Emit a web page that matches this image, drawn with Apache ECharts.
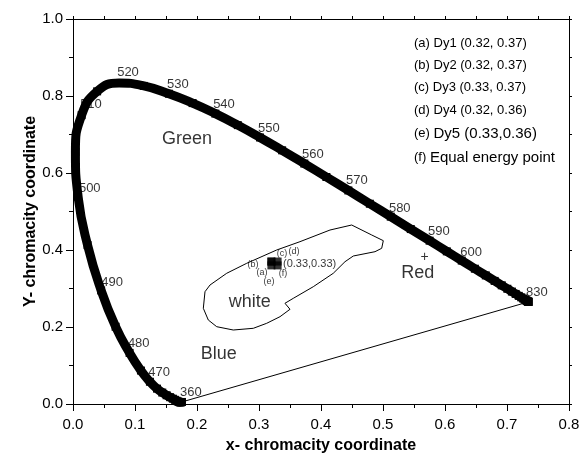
<!DOCTYPE html>
<html>
<head>
<meta charset="utf-8">
<script src="https://cdn.jsdelivr.net/npm/echarts@6/dist/echarts.min.js"></script>
<style>html,body{margin:0;padding:0;background:#fff}#c{width:580px;height:454px}</style>
</head>
<body>
<div id="c"></div>
<script>
// Spectral locus (x, y) read for 360..830 nm
const locusX = [0.1756,0.1752,0.1749,0.1745,0.1741,0.1740,0.1738,0.1736,0.1733,0.1730,0.1726,0.1721,0.1714,0.1703,0.1689,0.1669,0.1644,0.1611,0.1566,0.1510,0.1440,0.1355,0.1241,0.1096,0.0913,0.0687,0.0454,0.0235,0.0082,0.0039,0.0139,0.0389,0.0743,0.1142,0.1547,0.1929,0.2296,0.2658,0.3016,0.3373,0.3731,0.4087,0.4441,0.4788,0.5125,0.5448,0.5752,0.6029,0.6270,0.6482,0.6658,0.6801,0.6915,0.7006,0.7079,0.7140,0.7190,0.7230,0.7260,0.7283,0.7300,0.7311,0.7320,0.7327,0.7334,0.7340,0.7344,0.7346,0.7347,0.7347];
const locusY = [0.0053,0.0052,0.0052,0.0050,0.0050,0.0050,0.0049,0.0049,0.0048,0.0048,0.0048,0.0048,0.0051,0.0058,0.0069,0.0086,0.0109,0.0138,0.0177,0.0227,0.0297,0.0399,0.0578,0.0868,0.1327,0.2007,0.2950,0.4127,0.5384,0.6548,0.7502,0.8120,0.8338,0.8262,0.8059,0.7816,0.7543,0.7243,0.6923,0.6589,0.6245,0.5896,0.5547,0.5202,0.4866,0.4544,0.4242,0.3965,0.3725,0.3514,0.3340,0.3197,0.3083,0.2993,0.2920,0.2859,0.2809,0.2770,0.2740,0.2717,0.2700,0.2689,0.2680,0.2673,0.2666,0.2660,0.2656,0.2654,0.2653,0.2653];
// purple line 360 -> 830
const purpleX = [0.1756, 0.7347];
const purpleY = [0.0053, 0.2653];
// wavelength labels
const wlText = ['360','470','480','490','500','510','520','530','540','550','560','570','580','590','600','830'];
const wlX = [0.190,0.139,0.106,0.063,0.027,0.029,0.0887,0.169,0.2435,0.316,0.387,0.458,0.527,0.590,0.642,0.748];
const wlY = [0.031,0.083,0.158,0.317,0.561,0.777,0.860,0.831,0.779,0.717,0.647,0.582,0.509,0.447,0.395,0.291];
// region labels
const regionText = ['Green','Blue','white','Red','+'];
const regionX = [0.184,0.235,0.285,0.556,0.567];
const regionY = [0.688,0.130,0.265,0.340,0.382];
const regionSize = [18,18,18,18,14];
// white region outline
const whiteX = [0.4495,0.4818,0.5005,0.4979,0.4871,0.4521,0.4387,0.4198,0.3876,0.3553,0.3419,0.3500,0.3339,0.3124,0.2908,0.2585,0.2318,0.2182,0.2102,0.2129,0.2210,0.2479,0.2802,0.3285,0.3661,0.4145,0.4495];
const whiteY = [0.4649,0.4390,0.4242,0.4044,0.3956,0.3844,0.3696,0.3395,0.3047,0.2745,0.2616,0.2460,0.2268,0.2096,0.1966,0.1922,0.2008,0.2182,0.2486,0.2917,0.3091,0.3395,0.3655,0.4000,0.4216,0.4519,0.4649];
// Dy samples (a)..(e)
const sampleX = [0.32,0.32,0.33,0.32,0.33];
const sampleY = [0.37,0.37,0.37,0.36,0.36];
// small tags near samples
const tagText = ['(b)','(a)','(e)','(f)','(c)','(d)'];
const tagX = [0.2903,0.3048,0.3161,0.3387,0.3371,0.3565];
const tagY = [0.361,0.3403,0.3169,0.3377,0.3896,0.3948];
const eepText = '(0.33,0.33)';
const eepPos = [0.3387, 0.3636];
// legend lines
const legendLines = [
  ['(a) ', 'Dy1 (0.32, 0.37)'],
  ['(b) ', 'Dy2 (0.32, 0.37)'],
  ['(c) ', 'Dy3 (0.33, 0.37)'],
  ['(d) ', 'Dy4 (0.32, 0.36)'],
  ['(e) ', 'Dy5 (0.33,0.36)'],
  ['(f) ', 'Equal energy point']
];
const xTicks = ['0.0','0.1','0.2','0.3','0.4','0.5','0.6','0.7','0.8'];
const yTicks = ['0.0','0.2','0.4','0.6','0.8','1.0'];

const zip = (a, b) => a.map((v, i) => [v, b[i]]);
const FONT = 'Arial, "Liberation Sans", sans-serif';

const chart = echarts.init(document.getElementById('c'), null, {renderer: 'canvas'});

const legendGraphics = legendLines.map((l, i) => {
  const big = i >= 4;
  return {
    type: 'text', left: 414, top: [43,65,87,110,133,157][i] - (big ? 7 : 6),
    style: {
      text: '{s|' + l[0] + '}{' + (big ? 'b' : 's') + '|' + l[1] + '}',
      rich: {
        s: {fontSize: 13, fontFamily: FONT, fill: '#000'},
        b: {fontSize: 15, fontFamily: FONT, fill: '#000'}
      }
    }
  };
});

chart.setOption({
  animation: false,
  backgroundColor: '#fff',
  grid: {left: 73, right: 11, top: 19, bottom: 50, containLabel: false, outerBoundsMode: 'none'},
  xAxis: [{
    type: 'value', min: 0, max: 0.8, interval: 0.1, position: 'bottom',
    name: 'x- chromacity coordinate', nameLocation: 'middle', nameGap: 34, nameMoveOverlap: false,
    nameTextStyle: {fontSize: 16, fontWeight: 'bold', fontFamily: FONT, color: '#000'},
    axisLine: {show: true, onZero: false, lineStyle: {color: '#000', width: 1}},
    axisTick: {show: true, length: 7, lineStyle: {color: '#000'}},
    minorTick: {show: true, splitNumber: 2, length: 4, lineStyle: {color: '#000'}},
    axisLabel: {margin: 13, fontSize: 15, fontFamily: FONT, color: '#000',
      formatter: v => xTicks[Math.round(v * 10)]},
    splitLine: {show: false}
  }, {
    type: 'value', min: 0, max: 0.8, interval: 0.05, position: 'top',
    axisLine: {show: true, onZero: false, lineStyle: {color: '#000', width: 1}},
    axisTick: {show: true, length: 3, lineStyle: {color: '#000'}},
    axisLabel: {show: false}, splitLine: {show: false}
  }],
  yAxis: [{
    type: 'value', min: 0, max: 1.0, interval: 0.2, position: 'left',
    name: 'Y- chromacity coordinate', nameLocation: 'middle', nameGap: 34, nameMoveOverlap: false,
    nameTextStyle: {fontSize: 16, fontWeight: 'bold', fontFamily: FONT, color: '#000'},
    axisLine: {show: true, onZero: false, lineStyle: {color: '#000', width: 1}},
    axisTick: {show: true, length: 7, lineStyle: {color: '#000'}},
    minorTick: {show: true, splitNumber: 2, length: 4, lineStyle: {color: '#000'}},
    axisLabel: {margin: 10, fontSize: 15, fontFamily: FONT, color: '#000',
      formatter: v => yTicks[Math.round(v * 5)]},
    splitLine: {show: false}
  }, {
    type: 'value', min: 0, max: 1.0, interval: 0.1, position: 'right',
    axisLine: {show: true, onZero: false, lineStyle: {color: '#000', width: 1}},
    axisTick: {show: true, length: 3, lineStyle: {color: '#000'}},
    axisLabel: {show: false}, splitLine: {show: false}
  }],
  graphic: legendGraphics,
  series: [
    {
      type: 'scatter', z: 1, symbolSize: 0, silent: true,
      data: wlText.map((t, i) => ({name: t, value: [wlX[i], wlY[i]]})),
      label: {show: true, position: 'inside', formatter: '{b}', fontSize: 13, fontFamily: FONT, color: '#000'}
    },
    {
      type: 'line', z: 2, showSymbol: false, symbol: 'none', silent: true,
      data: zip(purpleX, purpleY), lineStyle: {color: '#000', width: 1}
    },
    {
      type: 'line', z: 2, showSymbol: false, symbol: 'none', silent: true,
      data: zip(whiteX, whiteY), lineStyle: {color: '#000', width: 1}
    },
    {
      type: 'line', z: 3, symbol: 'rect', symbolSize: 8, showAllSymbol: true, silent: true,
      smooth: 0.5,
      data: zip(locusX, locusY),
      itemStyle: {color: '#000'}, lineStyle: {color: '#000', width: 9}
    },
    {
      type: 'scatter', z: 3, symbol: 'rect', symbolSize: 8, silent: true,
      data: zip(sampleX, sampleY), itemStyle: {color: '#000'}
    },
    {
      type: 'scatter', z: 4, symbolSize: 0, silent: true,
      data: regionText.map((t, i) => ({name: t, value: [regionX[i], regionY[i]], label: {fontSize: regionSize[i]}})),
      label: {show: true, position: 'inside', formatter: '{b}', fontFamily: FONT, color: '#000'}
    },
    {
      type: 'scatter', z: 4, symbolSize: 0, silent: true,
      data: tagText.map((t, i) => ({name: t, value: [tagX[i], tagY[i]]})),
      label: {show: true, position: 'inside', formatter: '{b}', fontSize: 9, fontFamily: FONT, color: '#000'}
    },
    {
      type: 'scatter', z: 4, symbolSize: 0, silent: true,
      data: [{name: eepText, value: eepPos}],
      label: {show: true, position: 'inside', align: 'left', formatter: '{b}', fontSize: 11, fontFamily: FONT, color: '#000'}
    }
  ]
});
</script>
</body>
</html>
